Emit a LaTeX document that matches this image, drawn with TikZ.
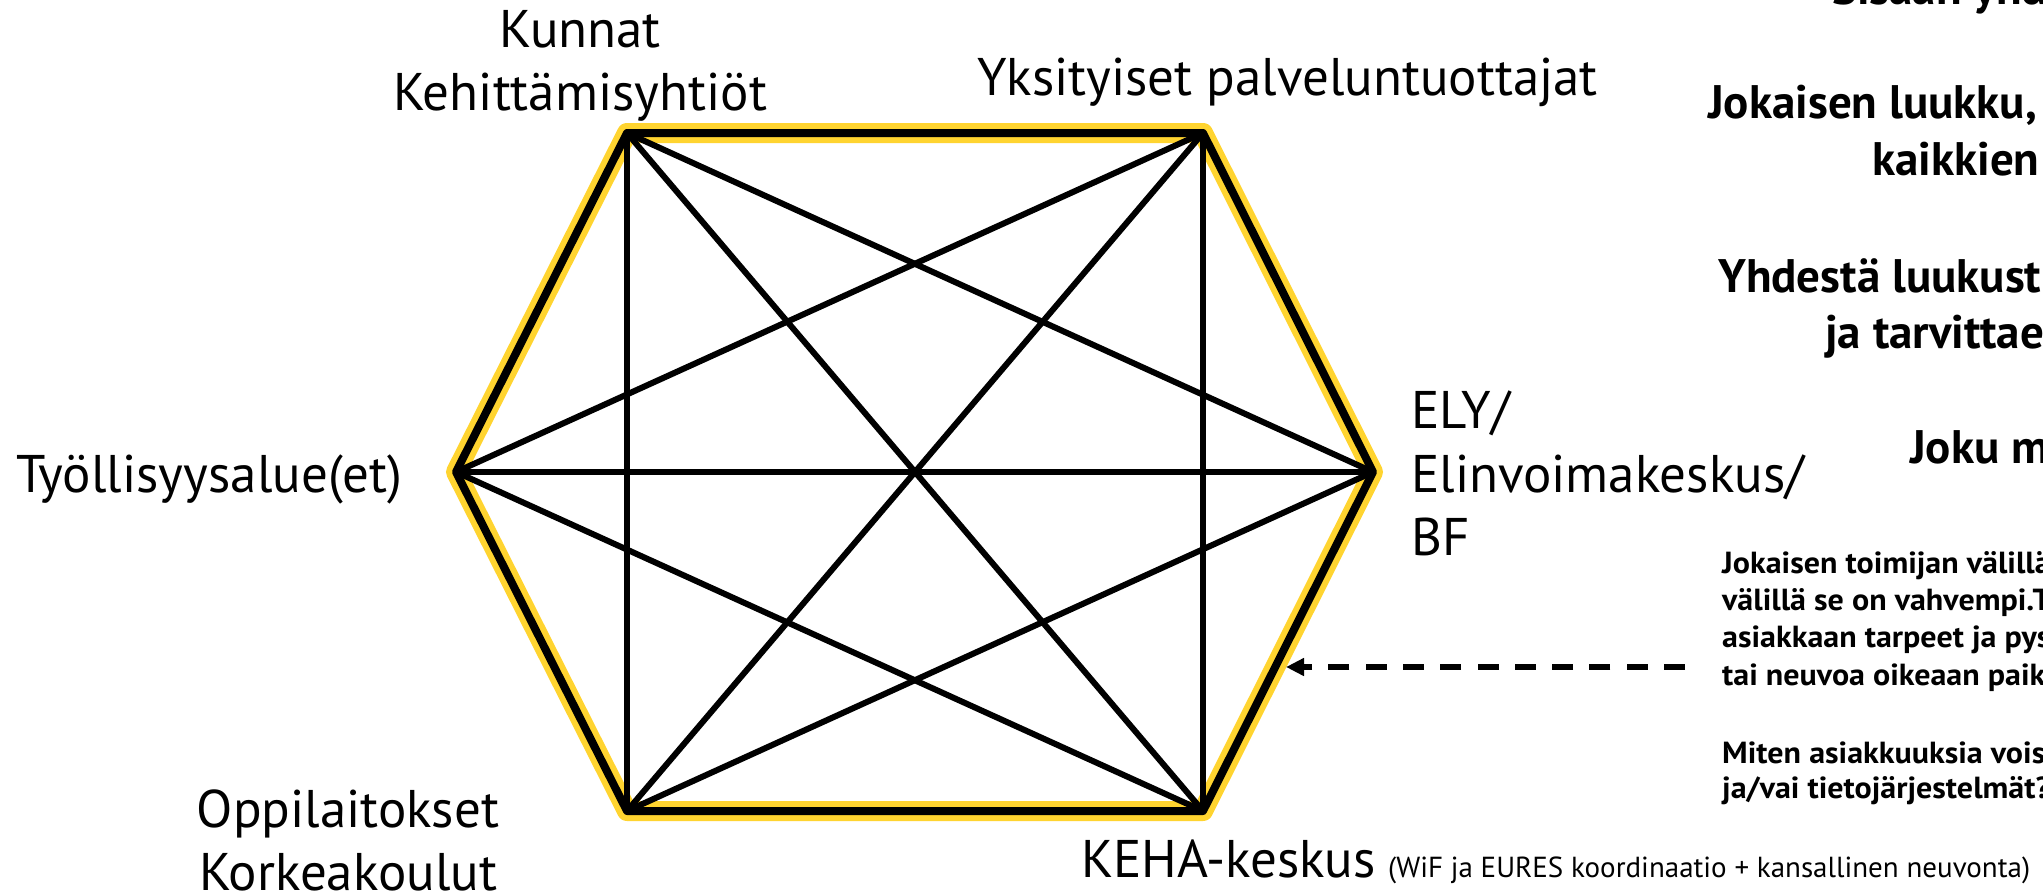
\documentclass[tikz,border=0pt]{standalone}
\usepackage{fontspec}
\setmainfont{PT Sans}
\newfontfamily\parafont{PT Sans}[FakeStretch=1.05]
\usetikzlibrary{arrows.meta}
\definecolor{rimgold}{RGB}{255,212,48}
\tikzset{
  lbl/.style={inner sep=0pt, font=\fontsize{53}{63}\selectfont},
  smalllbl/.style={inner sep=0pt, font=\fontsize{29}{35}\selectfont, anchor=base west},
  note/.style={inner sep=0pt, font=\bfseries\fontsize{47}{57}\selectfont, anchor=base west},
  para/.style={inner sep=0pt, font=\parafont\bfseries\fontsize{30.5}{37}\selectfont, anchor=base west},
  rim/.style={line width=20pt, draw=rimgold, line join=round},
  rimline/.style={line width=8pt, draw=black, line join=round},
  tie/.style={line width=6pt, draw=black},
  pointer/.style={line width=6pt, draw=black, dash pattern=on 21pt off 16.3pt,
    -{Triangle[length=18pt,width=17pt]}}
}
\begin{document}
\begin{tikzpicture}[x=1pt,y=-1pt]
\useasboundingbox (0,0) rectangle (2043,892);
\clip (0,0) rectangle (2043,892);
\fill[white] (0,0) rectangle (2043,892);

% corners of the network hexagon
\coordinate (TL) at (627,133);
\coordinate (TR) at (1203,133);
\coordinate (R)  at (1373,472);
\coordinate (BR) at (1203,811);
\coordinate (BL) at (627,811);
\coordinate (L)  at (456,472);

% outer ring: gold band under a black edge
\draw[rim] (TL) -- (TR) -- (R) -- (BR) -- (BL) -- (L) -- cycle;
\draw[rimline] (TL) -- (TR) -- (R) -- (BR) -- (BL) -- (L) -- cycle;

% every actor linked with every other
\foreach \a/\b in {TL/R, TL/BR, TL/BL, TR/BR, TR/BL, TR/L, R/L, R/BL, BR/L}
  \draw[tie] (\a) -- (\b);

% actor labels
\node[lbl, anchor=base] (kunnat) at (580,47) {Kunnat};
\node[lbl, anchor=base] (kehyht) at (580,110) {Kehittämisyhtiöt};
\node[lbl, anchor=base west] (yksit) at (977,95) {Yksityiset palveluntuottajat};
\node[lbl, anchor=base west] (tyoll) at (16,492) {Työllisyysalue(et)};
\node[lbl, anchor=base west] (ely) at (1411,428) {ELY/};
\node[lbl, anchor=base west] (elinv) at (1411,492) {Elinvoimakeskus/};
\node[lbl, anchor=base west] (bf) at (1411,555) {BF};
\node[lbl, anchor=base] (oppil) at (348,827) {Oppilaitokset};
\node[lbl, anchor=base] (korkea) at (348,890) {Korkeakoulut};
\node[lbl, anchor=base west] (keha) at (1081,877) {KEHA-keskus};
\node[smalllbl] (kehainfo) at (1388,877) {(WiF ja EURES koordinaatio + kansallinen neuvonta)};

% headline notes on the right
\node[note] (n0) at (1832,4) {Sisään yhd};
\node[note] (n1) at (1708,118) {Jokaisen luukku,};
\node[note] (n2) at (1872,175) {kaikkien};
\node[note] (n3) at (1718,292) {Yhdestä luukust};
\node[note] (n4) at (1825,348) {ja tarvittae};
\node[note] (n5) at (1910,463) {Joku m};

% explanatory paragraph
\node[para] (p1) at (1722,573) {Jokaisen toimijan välillä};
\node[para] (p2) at (1722,610) {välillä se on vahvempi.T};
\node[para] (p3) at (1722,647) {asiakkaan tarpeet ja pys};
\node[para] (p4) at (1722,685) {tai neuvoa oikeaan paik};
\node[para] (p5) at (1722,763) {Miten asiakkuuksia vois};
\node[para] (p6) at (1722,798) {ja/vai tietojärjestelmät?};

% dashed pointer from the paragraph to the network
\coordinate (tail) at (1685,667);
\coordinate (tip) at (1286,667);
\draw[pointer] (tail) -- (tip);
\end{tikzpicture}
\end{document}
